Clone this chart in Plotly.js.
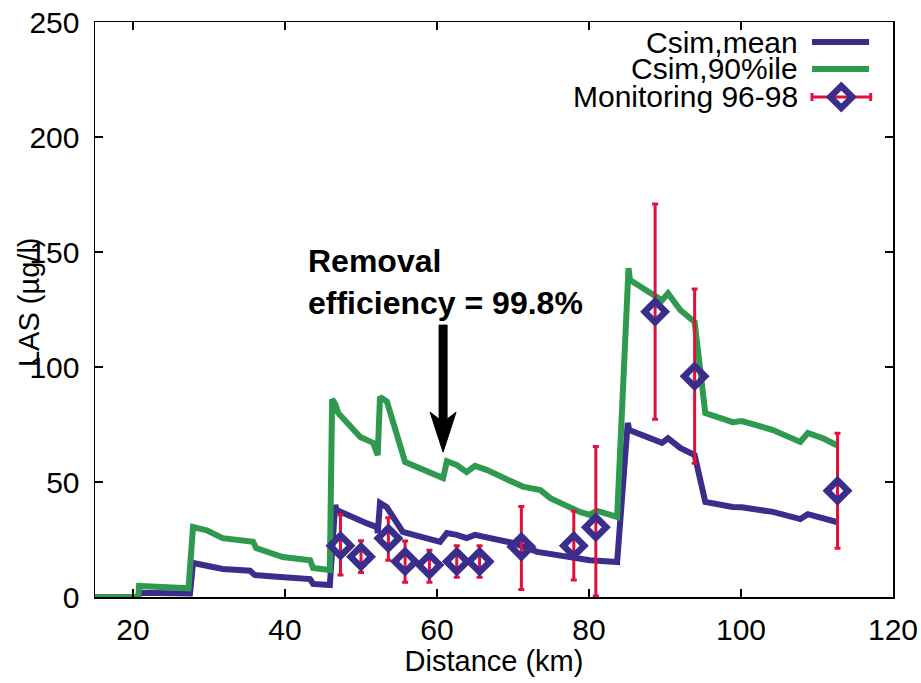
<!DOCTYPE html>
<html>
<head>
<meta charset="utf-8">
<script src="https://cdn.plot.ly/plotly-3.0.1.min.js"></script>
<style>html,body{margin:0;padding:0;background:#fff;}#chart{width:921px;height:683px;}</style>
</head>
<body>
<div id="chart"></div>
<script>
// Csim, mean
const meanX = [15, 20.7, 20.8, 27.5, 27.9, 29.7, 31.8, 35.4, 36.0, 38.9, 43.3, 43.7, 45.9, 46.6, 46.8, 50.8, 52.1, 52.2, 52.5, 53.4, 55.5, 60.4, 61.3, 62.6, 63.9, 65.0, 70.0, 73.2, 78.8, 80.1, 83.7, 85.1, 85.3, 89.6, 90.4, 92.0, 93.9, 95.3, 98.9, 100.1, 102.5, 104.2, 107.8, 108.8, 112.6];
const meanY = [0, 0, 1.8, 1.5, 14.8, 13.5, 12.2, 11.4, 9.6, 8.8, 7.8, 5.7, 5.2, 40.0, 37.8, 32.0, 30.4, 27.8, 40.9, 39.0, 28.3, 24.0, 27.8, 27.0, 25.6, 27.0, 23.5, 19.6, 17.0, 16.0, 15.2, 75.7, 72.6, 67.0, 69.0, 64.8, 61.7, 41.3, 39.1, 39.0, 37.8, 37.0, 33.9, 36.0, 32.6];
// Csim, 90%ile
const p90X = [15, 20.7, 20.8, 23.5, 27.3, 27.9, 29.7, 31.8, 35.8, 36.2, 38.0, 39.7, 43.3, 43.7, 45.9, 46.2, 46.6, 47.0, 49.9, 51.6, 52.2, 52.5, 53.4, 55.8, 60.8, 61.3, 62.6, 63.9, 65.0, 66.6, 69.6, 71.3, 73.6, 74.9, 78.8, 80.1, 81.0, 83.7, 85.2, 85.4, 89.6, 90.4, 92.0, 93.9, 95.3, 98.9, 100.1, 102.5, 104.2, 107.8, 108.8, 110.8, 112.6];
const p90Y = [0, 0, 4.8, 4.4, 3.8, 30.4, 29.0, 25.6, 24.0, 21.3, 19.5, 17.4, 16.0, 12.6, 11.7, 86.0, 84.0, 80.0, 69.6, 67.0, 61.7, 87.0, 85.0, 58.7, 51.7, 59.0, 57.4, 54.3, 57.0, 55.2, 50.5, 48.0, 46.5, 43.0, 37.0, 35.7, 37.5, 34.8, 143.0, 137.8, 129.0, 132.0, 124.8, 119.6, 80.0, 76.0, 76.5, 74.0, 72.6, 67.4, 71.3, 69.0, 66.0];
// Monitoring 96-98
const monX = [47.3, 50.0, 53.6, 55.8, 59.0, 62.6, 65.6, 71.1, 78.0, 80.9, 88.7, 93.9, 112.7];
const monY = [22.3, 17.5, 25.5, 15.4, 13.9, 15.4, 15.4, 21.9, 22.3, 30.3, 124.0, 96.0, 46.2];
const monHigh = [35.7, 24.5, 34.5, 24.3, 20.3, 22.3, 22.3, 39.3, 37.4, 65.4, 170.9, 133.9, 71.2];
const monLow = [9.6, 10.6, 16.0, 6.4, 6.4, 8.6, 8.6, 3.3, 7.4, 0.4, 77.3, 58.1, 21.2];
const legendNames = ['Csim,mean', 'Csim,90%ile', 'Monitoring 96-98'];
const xTicks = [20, 40, 60, 80, 100, 120];
const yTicks = [0, 50, 100, 150, 200, 250];

const BLUE = '#3a2d8b', GREEN = '#2f9a4f', RED = '#e3103c';
const FONT = 'Liberation Sans, Arial, sans-serif';

const traces = [
  {x: meanX, y: meanY, mode: 'lines', line: {color: BLUE, width: 6}, showlegend: false},
  {x: p90X, y: p90Y, mode: 'lines', line: {color: GREEN, width: 6}, showlegend: false},
  {x: monX, y: monY, mode: 'markers', showlegend: false,
   marker: {symbol: 'diamond-open', size: 16, color: BLUE, line: {width: 6.5, color: BLUE}},
   error_y: {type: 'data', symmetric: false,
     array: monHigh.map((h, i) => h - monY[i]),
     arrayminus: monLow.map((l, i) => monY[i] - l),
     color: RED, thickness: 3, width: 3}}
];

// legend (custom, text left of sample) in paper coords
const L = {x0: 0.8985, x1: 0.9700, xt: 0.8835, rows: [0.9652, 0.9183, 0.8696]};
const shapes = [
  {type: 'line', xref: 'paper', yref: 'paper', x0: L.x0, x1: L.x1, y0: L.rows[0], y1: L.rows[0], line: {color: BLUE, width: 6}},
  {type: 'line', xref: 'paper', yref: 'paper', x0: L.x0, x1: L.x1, y0: L.rows[1], y1: L.rows[1], line: {color: GREEN, width: 6}},
  {type: 'line', xref: 'paper', yref: 'paper', x0: L.x0, x1: L.x1 + 0.002, y0: L.rows[2], y1: L.rows[2], line: {color: RED, width: 3}},
  {type: 'line', xref: 'paper', yref: 'paper', xsizemode: 'pixel', ysizemode: 'pixel', xanchor: L.x0, yanchor: L.rows[2], x0: 0, x1: 0, y0: -4, y1: 4, line: {color: RED, width: 3}},
  {type: 'line', xref: 'paper', yref: 'paper', xsizemode: 'pixel', ysizemode: 'pixel', xanchor: L.x1 + 0.002, yanchor: L.rows[2], x0: 0, x1: 0, y0: -4, y1: 4, line: {color: RED, width: 3}},
  {type: 'path', xref: 'paper', yref: 'paper', xsizemode: 'pixel', ysizemode: 'pixel', xanchor: (L.x0 + L.x1) / 2 + 0.001, yanchor: L.rows[2],
   path: 'M 0,11 L 11,0 L 0,-11 L -11,0 Z', fillcolor: 'rgba(255,255,255,0)', line: {color: BLUE, width: 6.5}},
  // annotation arrow
  {type: 'path', xref: 'x', yref: 'y', xsizemode: 'pixel', ysizemode: 'pixel', xanchor: 60.8, yanchor: 63,
   path: 'M 0,0 L -13,40 L -4,33 L -4,127 L 4,127 L 4,33 L 13,40 Z', fillcolor: '#000', line: {color: '#000', width: 1}}
];

const annotations = legendNames.map((n, i) => ({
  xref: 'paper', yref: 'paper', x: L.xt, y: L.rows[i], xanchor: 'right', yanchor: 'middle',
  text: n, showarrow: false, font: {family: FONT, size: 30, color: '#000'}
}));
annotations.push({
  xref: 'paper', yref: 'paper', x: -0.0827, y: 0.513, xanchor: 'center', yanchor: 'middle',
  text: 'LAS (µg/l)', textangle: -90, showarrow: false, font: {family: FONT, size: 29, color: '#000'}
});
annotations.push({
  xref: 'x', yref: 'y', x: 42.8, y: 137, xanchor: 'left', yanchor: 'middle', align: 'left',
  text: '<b>Removal<br>efficiency = 99.8%</b>', showarrow: false, font: {family: FONT, size: 32, color: '#000'}
});

const axisCommon = {
  showgrid: false, zeroline: false, showline: true, linecolor: '#000', linewidth: 1.5,
  mirror: 'ticks', ticks: 'inside', ticklen: 8, tickwidth: 1.5, tickcolor: '#000',
  tickfont: {family: FONT, size: 30, color: '#000'}
};

const layout = {
  width: 921, height: 683,
  margin: {l: 95, r: 28, t: 22, b: 86},
  paper_bgcolor: '#fff', plot_bgcolor: '#fff',
  showlegend: false,
  xaxis: Object.assign({}, axisCommon, {range: [15, 120], tickvals: xTicks, ticktext: xTicks.map(String),
    ticklabelstandoff: 5,
    title: {text: 'Distance (km)', font: {family: FONT, size: 29, color: '#000'}, standoff: 4}}),
  yaxis: Object.assign({}, axisCommon, {range: [0, 250], tickvals: yTicks, ticktext: yTicks.map(String),
    ticklabelstandoff: 8}),
  shapes: shapes,
  annotations: annotations
};

Plotly.newPlot('chart', traces, layout, {displayModeBar: false, staticPlot: true});
</script>
</body>
</html>
